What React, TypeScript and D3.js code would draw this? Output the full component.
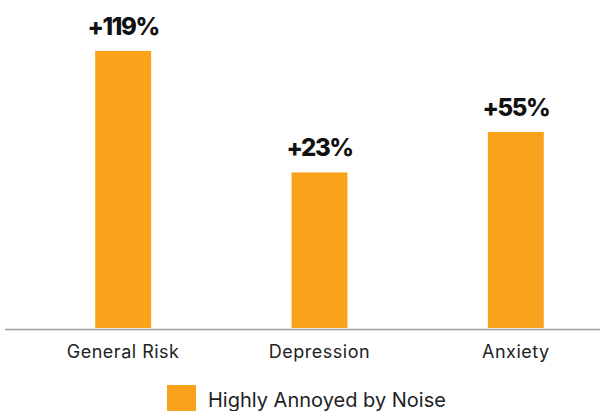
import React from "react";
import * as d3 from "d3";

const categories = ["General Risk", "Depression", "Anxiety"];
const relativeRisk = [2.19, 1.23, 1.55];
const valueLabels = ["+119%", "+23%", "+55%"];
const seriesName = "Highly Annoyed by Noise";

const W = 600;
const H = 411;
const ORANGE = "#F9A31D";

export default function App() {
  const x = d3.scalePoint<string>().domain(categories).range([25, 614]).padding(0.5);
  const step = x.step();
  const bw = step * 0.285;
  const y = d3.scaleLinear().domain([0, 2.5]).range([328, 11.75]);

  return (
    <svg width={W} height={H} style={{ position: "absolute", left: 0, top: 0, display: "block" }}
      fontFamily="Inter, 'Open Sans', sans-serif">
      <rect width={W} height={H} fill="#fff" />
      {categories.map((c, i) => {
        const cx = x(c)!;
        const v = relativeRisk[i];
        return (
          <g key={c}>
            <rect x={cx - bw / 2} y={y(v)} width={bw} height={y(0) - y(v)} fill={ORANGE} />
            <text x={cx} y={y(v) - 16} textAnchor="middle" fontSize={24} fontWeight={800} fill="#111"
              letterSpacing={-1.4}>
              {valueLabels[i]}
            </text>
            <text x={cx} y={358.3} textAnchor="middle" fontSize={18} fill="#222" letterSpacing={0.5}>
              {c}
            </text>
          </g>
        );
      })}
      <line x1={5} x2={600} y1={329.5} y2={329.5} stroke="#a0a0a0" strokeWidth={1.5} />
      <rect x={167} y={385} width={29} height={26} fill={ORANGE} />
      <text x={208} y={406.7} fontSize={20} fill="#222">
        {seriesName}
      </text>
    </svg>
  );
}
